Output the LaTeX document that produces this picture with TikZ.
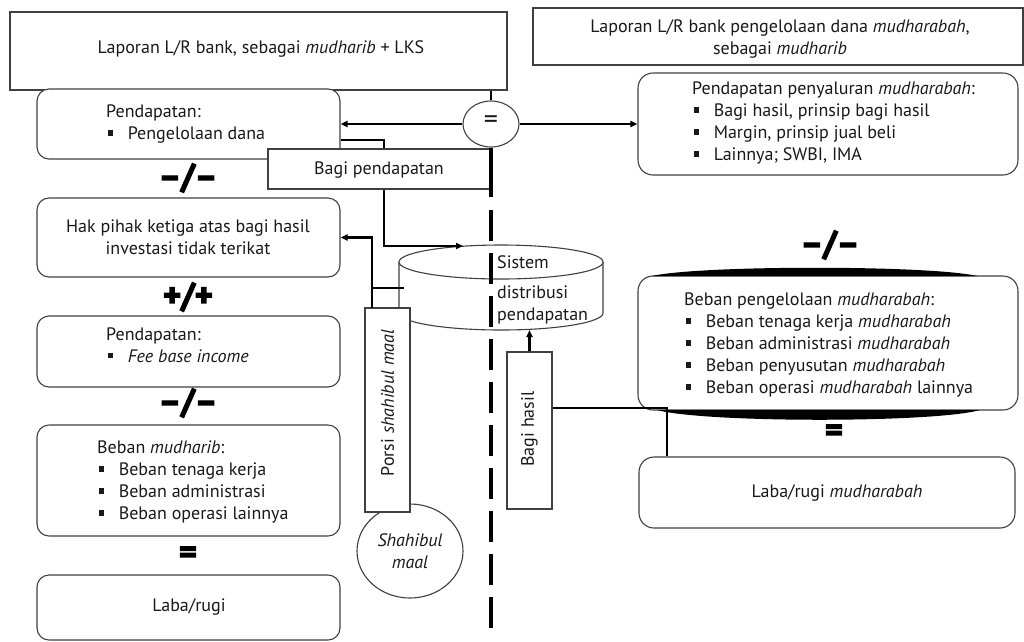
\documentclass[tikz,border=0pt]{standalone}
\usepackage{fontspec}
\setmainfont{PT Sans}
\newfontfamily\heavy{PT Sans}[FakeBold=4]
\usetikzlibrary{arrows.meta,shapes.geometric}
\newcommand\bul{\makebox[1.2em][l]{\hspace{0.08em}\rule[0.22em]{0.3em}{0.3em}}}
\begin{document}
\begin{tikzpicture}[x=1pt,y=-1pt,
 box/.style={draw=black!75, line width=1.1pt, fill=white, inner sep=0pt},
 rbox/.style={box, rounded corners=12pt},
 txt/.style={font=\fontsize{18}{22}\selectfont, text=black!90, inner sep=0pt},
 conn/.style={line width=2.6pt, black},
 arr/.style={conn, -{Triangle[length=7pt,width=6pt]}},
 op/.style={font=\heavy\bfseries\fontsize{34}{34}\selectfont, inner sep=0pt},
]
\useasboundingbox (0,0) rectangle (1024,641);

% ---- boxes
\node[box, minimum width=497pt, minimum height=78pt] (tl) at (258.5,51) {};
\node[box, minimum width=490pt, minimum height=57pt] (tr) at (778,36.5) {};
\node[rbox, minimum width=303pt, minimum height=70pt] (pl) at (188.5,124) {};
\node[rbox, rounded corners=15pt, minimum width=380pt, minimum height=102pt] (pr) at (828,124) {};
\node[rbox, minimum width=303pt, minimum height=79pt] (hak) at (188.5,237.5) {};
\node[rbox, minimum width=303pt, minimum height=71pt] (fee) at (188.5,351.5) {};
\node[rbox, minimum width=303pt, minimum height=111pt] (bm) at (188.5,480.5) {};
\node[rbox, minimum width=303pt, minimum height=65pt] (lr) at (188.5,607.5) {};
\node[rbox, rounded corners=15pt, minimum width=380pt, minimum height=134pt] (be) at (828,343) {};
\node[rbox, rounded corners=15pt, minimum width=376pt, minimum height=71pt] (lrm) at (827,492.5) {};

% lenses on the Beban box
\fill (652,276) .. controls (700,265) and (930,265) .. (977,276) -- cycle;
\fill (657,410) .. controls (705,423) and (935,423) .. (980,410) -- cycle;

% ---- cylinder
\filldraw[fill=white, draw=black!75, line width=1.1pt] (399,262) -- (399,313) arc[start angle=180, end angle=360, x radius=102pt, y radius=17pt] -- (603,262);
\filldraw[fill=white, draw=black!75, line width=1.1pt] (501,262) ellipse[x radius=102pt, y radius=17pt];
\coordinate (cyltop) at (463,246);
\coordinate (cylbot) at (529.5,330);
\node[txt, anchor=west] (cyl1) at (497,262) {Sistem};
\node[txt, anchor=west, align=left] (cyl2) at (497,305) {distribusi\\pendapatan};

% ---- Shahibul maal circle and Porsi box
\node[box, ellipse, minimum width=106pt, minimum height=94pt] (sh) at (410,551) {};
\node[txt, align=center] (shtxt) at (410,551) {\emph{Shahibul}\\\emph{maal}};
\node[box, minimum width=45pt, minimum height=204pt] (porsi) at (387.5,410) {};
\node[txt, rotate=90] (porsitxt) at (387.5,403) {Porsi \emph{shahibul maal}};
\node[box, minimum width=45pt, minimum height=157pt] (bh) at (529.5,430.5) {};
\node[txt, rotate=90] (bhtxt) at (529.5,429) {Bagi hasil};

% ---- equals ellipse and Bagi pendapatan box
\node[box, ellipse, minimum width=56pt, minimum height=46pt] (eq) at (491,124) {};
\node[txt, font=\fontsize{28}{28}\selectfont] (eqtxt) at (491,122) {=};

% ---- connectors
\draw[conn] (eq.north |- tl.south) -- (eq.north);
\draw[arr] (eq.west) -- (pl.east |- eq.west);
\draw[arr] (eq.east) -- (pr.west |- eq.east);
\coordinate (j1) at (384,140);
\draw[conn] (pl.east |- j1) -- (j1) -- (j1 |- 0,150);
\node[box, minimum width=222pt, minimum height=40pt] (bp) at (379,169) {};
\node[txt] (bptxt) at (379,170) {Bagi pendapatan};
\draw[arr] (j1 |- bp.south) |- (cyltop);
\coordinate (pj) at (372,308);
\draw[arr] (pj) |- (hak.east);
\coordinate (stub) at (404,288);
\draw[conn] (pj |- stub) -- (stub);
\draw[arr] (bh.north) -- (cylbot);
\coordinate (j3) at (667,408);
\draw[conn, line width=2.2pt] (bh.east |- j3) -- (j3) -- (j3 |- lrm.north);
\draw[conn, line width=3.2pt] (eq.south) -- (491,197);
\draw[conn, line width=3.4pt, dash pattern=on 31pt off 12pt] (491,210) -- (491,630);

% ---- texts
\node[txt] (tltxt) at (261,49) {Laporan L/R bank, sebagai \emph{mudharib} + LKS};
\node[txt, align=center] (trtxt) at (780,39) {Laporan L/R bank pengelolaan dana \emph{mudharabah},\\sebagai \emph{mudharib}};
\node[txt, anchor=west, align=left] (pltxt) at (106,124) {Pendapatan:\\\bul Pengelolaan dana};
\node[txt, anchor=west, align=left] (prtxt) at (692,123) {Pendapatan penyaluran \emph{mudharabah}:\\\bul Bagi hasil, prinsip bagi hasil\\\bul Margin, prinsip jual beli\\\bul Lainnya; SWBI, IMA};
\node[txt, align=center] (haktxt) at (188,237) {Hak pihak ketiga atas bagi hasil\\investasi tidak terikat};
\node[txt, anchor=west, align=left] (feetxt) at (106,345) {Pendapatan:\\\bul \emph{Fee base income}};
\node[txt, anchor=west, align=left] (bmtxt) at (97,482) {Beban \emph{mudharib}:\\\bul Beban tenaga kerja\\\bul Beban administrasi\\\bul Beban operasi lainnya};
\node[txt] (lrtxt) at (189,607) {Laba/rugi};
\node[txt, anchor=west, align=left] (betxt) at (684,345) {Beban pengelolaan \emph{mudharabah}:\\\bul Beban tenaga kerja \emph{mudharabah}\\\bul Beban administrasi \emph{mudharabah}\\\bul Beban penyusutan \emph{mudharabah}\\\bul Beban operasi \emph{mudharabah} lainnya};
\node[txt] (lrmtxt) at (837,493) {Laba/rugi \emph{mudharabah}};

% ---- operators
\node[op] (op1) at (188,178) {–/–};
\node[op] (op2) at (188,297) {+/+};
\node[op] (op3) at (188,403) {–/–};
\node[op] (op4) at (188,555) {=};
\node[op] (op5) at (830,245) {–/–};
\node[op] (op6) at (834,433) {=};
\end{tikzpicture}
\end{document}
